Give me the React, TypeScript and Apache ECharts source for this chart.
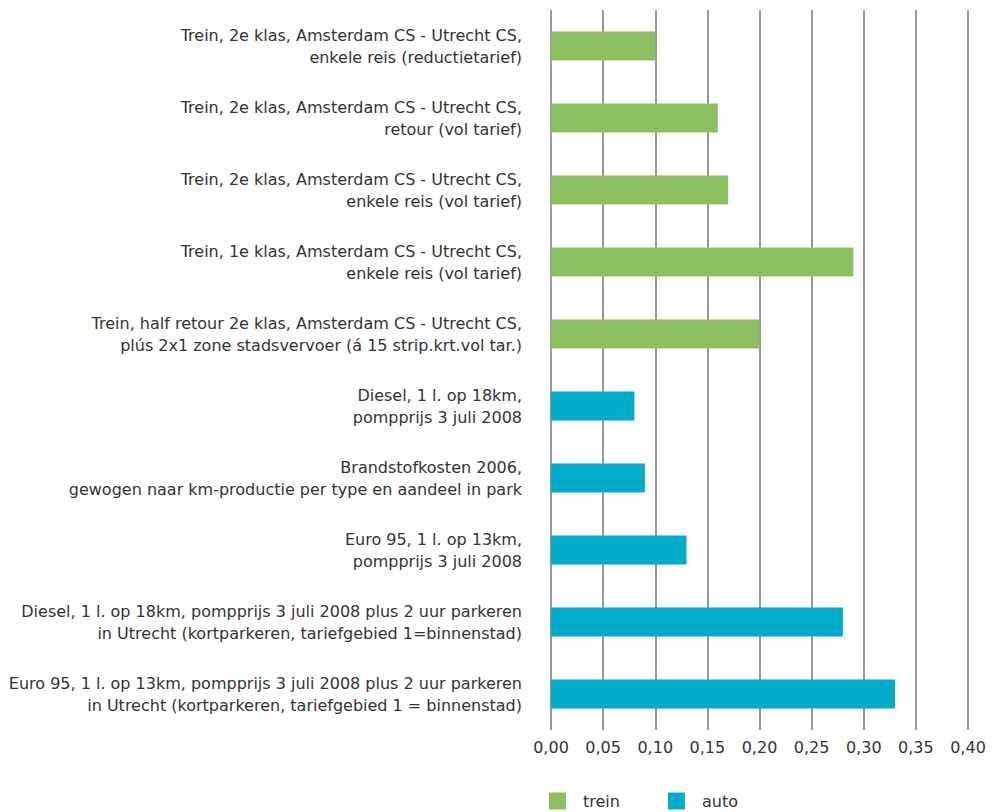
import React, { useEffect, useRef } from "react";
import * as echarts from "echarts";

const categories = [
  "Trein, 2e klas, Amsterdam CS - Utrecht CS,\nenkele reis (reductietarief)",
  "Trein, 2e klas, Amsterdam CS - Utrecht CS,\nretour (vol tarief)",
  "Trein, 2e klas, Amsterdam CS - Utrecht CS,\nenkele reis (vol tarief)",
  "Trein, 1e klas, Amsterdam CS - Utrecht CS,\nenkele reis (vol tarief)",
  "Trein, half retour 2e klas, Amsterdam CS - Utrecht CS,\nplús 2x1 zone stadsvervoer (á 15 strip.krt.vol tar.)",
  "Diesel, 1 l. op 18km,\npompprijs 3 juli 2008",
  "Brandstofkosten 2006,\ngewogen naar km-productie per type en aandeel in park",
  "Euro 95, 1 l. op 13km,\npompprijs 3 juli 2008",
  "Diesel, 1 l. op 18km, pompprijs 3 juli 2008 plus 2 uur parkeren\nin Utrecht (kortparkeren, tariefgebied 1=binnenstad)",
  "Euro 95, 1 l. op 13km, pompprijs 3 juli 2008 plus 2 uur parkeren\nin Utrecht (kortparkeren, tariefgebied 1 = binnenstad)",
];

const treinValues = [0.1, 0.16, 0.17, 0.29, 0.2, null, null, null, null, null];
const autoValues = [null, null, null, null, null, 0.08, 0.09, 0.13, 0.28, 0.33];

export default function App() {
  const ref = useRef<HTMLDivElement>(null);
  useEffect(() => {
    if (!ref.current) return;
    const chart = echarts.init(ref.current, undefined, { renderer: "svg" });
    const font = "'DejaVu Sans', sans-serif";
    chart.setOption({
      animation: false,
      textStyle: { fontFamily: font },
      grid: { left: 551, right: 27, top: 10, bottom: 82, containLabel: false },
      legend: {
        left: 549,
        top: 791,
        itemWidth: 17,
        itemHeight: 17,
        itemGap: 48,
        icon: "rect",
        padding: 0,
        textStyle: { fontSize: 16, lineHeight: 18, color: "#333", fontFamily: font, padding: [2, 0, 0, 12] },
        data: ["trein", "auto"],
      },
      xAxis: {
        type: "value",
        min: 0,
        max: 0.4,
        interval: 0.05,
        axisLine: { show: false },
        axisTick: { show: false },
        splitLine: { show: true, lineStyle: { color: "#777", width: 1.5 } },
        axisLabel: {
          fontSize: 16,
          color: "#333",
          margin: 9,
          fontFamily: font,
          formatter: (v: number) => v.toFixed(2).replace(".", ","),
        },
      },
      yAxis: {
        type: "category",
        data: categories,
        inverse: true,
        axisLine: { show: false },
        axisTick: { show: false },
        axisLabel: {
          fontSize: 16,
          lineHeight: 22,
          color: "#333",
          margin: 29,
          align: "right",
          fontFamily: font,
        },
      },
      series: [
        {
          name: "trein",
          type: "bar",
          stack: "s",
          data: treinValues,
          barWidth: 29,
          itemStyle: { color: "#8BBF5F" },
        },
        {
          name: "auto",
          type: "bar",
          stack: "s",
          data: autoValues,
          barWidth: 29,
          itemStyle: { color: "#00ACC9" },
        },
      ],
    });
    return () => chart.dispose();
  }, []);
  return <div ref={ref} style={{ width: 995, height: 812, position: "absolute", left: 0, top: 0 }} />;
}
